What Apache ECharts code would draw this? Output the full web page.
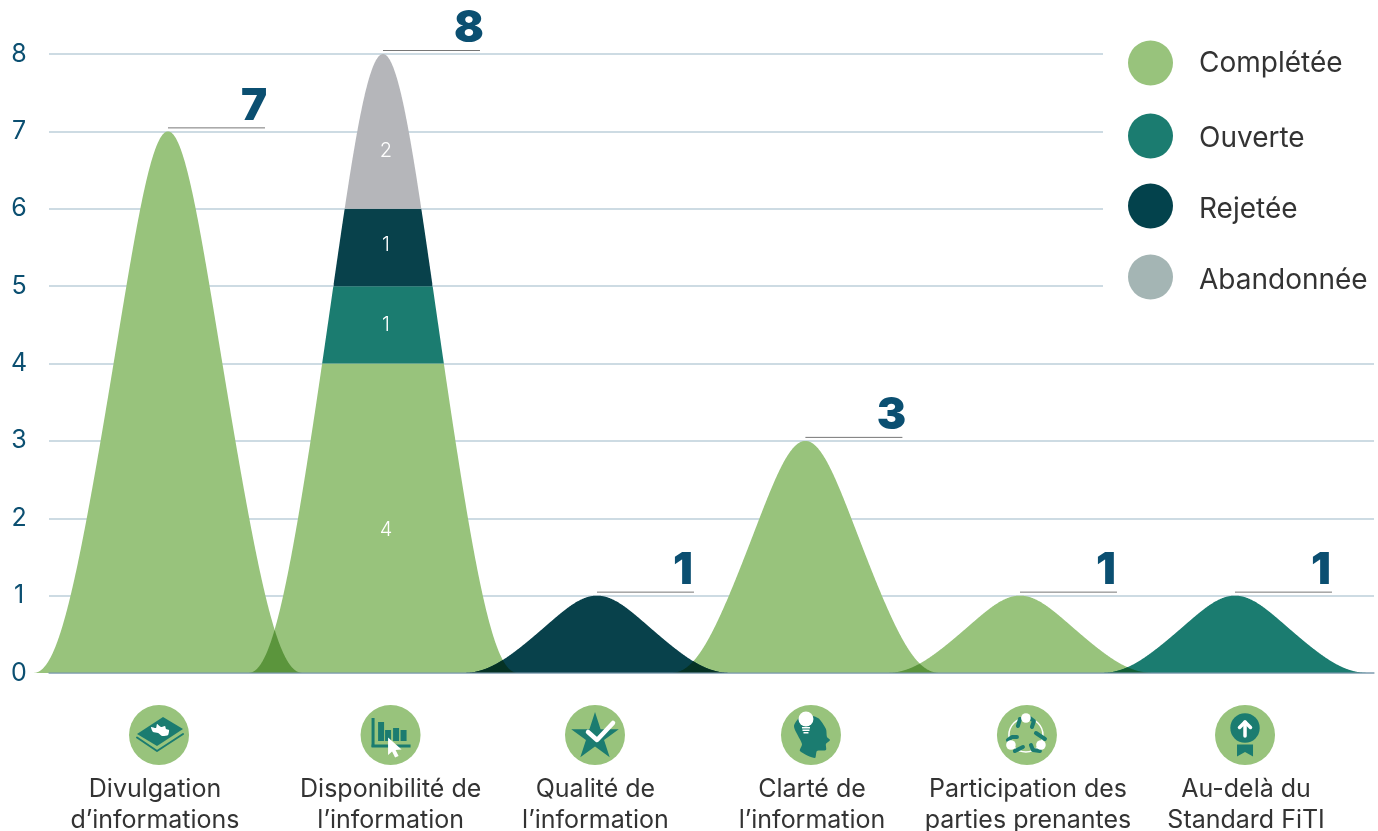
<!DOCTYPE html>
<html>
<head>
<meta charset="utf-8">
<style>html,body{margin:0;padding:0;background:#fff}#c{width:1378px;height:831px}</style>
<script src="https://cdn.jsdelivr.net/npm/echarts@6/dist/echarts.min.js"></script>
</head>
<body>
<div id="c"></div>
<script>
const categories = ['Divulgation\nd’informations','Disponibilité de\nl’information','Qualité de\nl’information','Clarté de\nl’information','Participation des\nparties prenantes','Au-delà du\nStandard FiTI'];
const statusNames = ['Complétée','Ouverte','Rejetée','Abandonnée'];
const completee = [7,4,0,3,1,0];
const ouverte = [0,1,0,0,0,1];
const rejetee = [0,1,1,0,0,0];
const abandonnee = [0,2,0,0,0,0];
const yTicks = [0,1,2,3,4,5,6,7,8];

// layout of the picture, in units of the horizontal axis
const peakSlots = [0,1.0075,2.0103,2.9869,3.9925,5];
const labelSlots = [-0.061,1.0436,2.003,3.018,4.03,5.052];
const iconSlots = [-0.042,1.043,2.001,3.013,4.025,5.047];
const statusSeries = [completee,ouverte,rejetee,abandonnee];
const totals = categories.map((_,i)=>statusSeries.reduce((s,a)=>s+a[i],0));

const colors = ['#98C37C','#1B7C70','#08414B','#B5B6BA'];
const legendColors = ['#98C37C','#1B7C70','#03424C','#A4B5B4'];
const legendY = [63,136,206,277];
const legendTextDrop = [2,6,8,8];
const FONT = 'Inter';
const TEAL='#1B7C70', GREEN='#98C37C';

// bell outline (axis units)
const BELL_W=0.635;
function bell(d){
  if(Math.abs(d)>=BELL_W) return 0;
  const R=(1+Math.cos(Math.PI*d/BELL_W))/2;
  return Math.pow(R,1.13+0.42*R*R);
}
function segmentPoints(api,slot,total,base,top){
  const pts=[], low=[];
  for(let d=-BELL_W;d<=BELL_W+1e-9;d+=0.002){
    const h=bell(d)*total;
    if(h>=base){
      pts.push(api.coord([slot+d,Math.min(h,top)]));
      low.unshift(api.coord([slot+d,base]));
    }
  }
  return pts.concat(low);
}
function multiply(a,b){
  const ch=(s,i)=>parseInt(s.substr(1+2*i,2),16);
  let out='#';
  for(let i=0;i<3;i++) out+=Math.round(ch(a,i)*ch(b,i)/255).toString(16).padStart(2,'0');
  return out;
}
// colour of the lowest band of each peak
const footColor=categories.map((_,i)=>colors[statusSeries.findIndex(a=>a[i]>0)]);

const labelShift={0:12,1:0,2:-2,3:20};
const humpSeries=statusSeries.map((arr,si)=>({
  type:'custom',name:statusNames[si],z:3,silent:true,clip:false,
  itemStyle:{color:legendColors[si]},
  data:arr.map((v,i)=>{
    let base=0; for(let k=0;k<si;k++) base+=statusSeries[k][i];
    return [peakSlots[i],v,base,totals[i],totals[i]>v?1:0];
  }),
  renderItem:(p,api)=>{
    const v=api.value(1); if(!v) return null;
    const slot=api.value(0),base=api.value(2),total=api.value(3);
    const children=[{type:'polygon',shape:{points:segmentPoints(api,slot,total,base,base+v)},style:{fill:colors[si]}}];
    if(api.value(4)){
      const c=api.coord([slot,base+v/2]);
      children.push({type:'text',x:c[0]+3,y:c[1]+labelShift[si],style:{text:String(v),fill:'#fff',font:'300 20px '+FONT,align:'center',verticalAlign:'middle'}});
    }
    return {type:'group',children};
  }
}));
// where two neighbouring peaks cross, the colours darken each other
const overlapSeries={
  type:'custom',name:'Chevauchement',z:4,silent:true,clip:false,
  data:peakSlots.slice(0,-1).map((s,i)=>[s,totals[i],peakSlots[i+1],totals[i+1]]),
  renderItem:(p,api)=>{
    const a=api.value(0),ta=api.value(1),b=api.value(2),tb=api.value(3);
    const top=[],low=[];
    for(let x=b-BELL_W;x<=a+BELL_W+1e-9;x+=0.002){
      top.push(api.coord([x,Math.min(bell(x-a)*ta,bell(x-b)*tb)]));
      low.unshift(api.coord([x,0]));
    }
    return {type:'polygon',shape:{points:top.concat(low)},style:{fill:multiply(footColor[p.dataIndex],footColor[p.dataIndex+1])}};
  }
};
const totalSeries={
  type:'custom',name:'Total',z:5,silent:true,clip:false,
  data:totals.map((t,i)=>[peakSlots[i],t]),
  renderItem:(p,api)=>{
    const c=api.coord([api.value(0),api.value(1)]);
    return {type:'group',children:[
      {type:'line',shape:{x1:c[0],y1:c[1]-3.5,x2:c[0]+97,y2:c[1]-3.5},style:{stroke:'#777',lineWidth:1}},
      {type:'text',x:c[0]+86,y:c[1]-25,style:{text:String(api.value(1)),fill:'#0B4F71',font:'900 44px '+FONT,align:'center',verticalAlign:'middle'}}
    ]};
  }
};
// small pictograms under the axis
function poly(points,fill){return {type:'polygon',shape:{points},style:{fill}};}
function stroke(points,color,w){return {type:'polyline',shape:{points},style:{stroke:color,lineWidth:w,fill:null,lineCap:'round',lineJoin:'round'}};}
function circle(cx,cy,r,fill){return {type:'circle',shape:{cx,cy,r},style:{fill}};}
function rect(x,y,width,height,fill){return {type:'rect',shape:{x,y,width,height},style:{fill}};}
const drawings=[
  ()=>[poly([[-22,-1],[4,-18],[24,-6],[-2,11]],TEAL),
       stroke([[-22,2.5],[-2,16],[24,-1]],TEAL,2),
       {type:'polygon',shape:{points:[[-8,-8],[-3,-7],[-2,-11],[2,-8],[6,-9],[7,-6],[10,-5],[9,0],[3,1],[-1,-2],[-6,-3]],smooth:0.2},style:{fill:'#fff'}}],
  ()=>[rect(-19,-17,3,29,TEAL),rect(-19,9.5,39,3,TEAL),
       rect(-12.5,-13,6,19,TEAL),rect(-5.5,-5,6,11,TEAL),rect(2.5,-7,6,13,TEAL),rect(10,-5,6,11,TEAL),
       poly([[-2.5,2.5],[11,14.5],[5,15],[8,21],[4.5,22.5],[1.5,16.5],[-2.5,20]],'#fff')],
  ()=>{const pts=[];for(let i=0;i<10;i++){const r=i%2?9.5:25,a=-Math.PI/2+i*Math.PI/5;pts.push([r*Math.cos(a),2+r*Math.sin(a)]);}
       return [poly(pts,TEAL),stroke([[-7,-3],[2,5],[18,-12]],'#fff',4.5)];},
  ()=>[{type:'polygon',shape:{points:[[4,23],[-11,16],[-9,9],[-17,-9],[-8,-20],[7,-17],[15,-6],[16,2],[19,5],[15,9],[15,15],[6,16]],smooth:0.25},style:{fill:TEAL}},
       circle(-5,-16,7.5,'#fff'),rect(-9,-8,8,1.5,'#fff'),rect(-8.5,-5.5,7,1.5,'#fff'),rect(-7.5,-3,5,1.5,'#fff')],
  ()=>[{type:'circle',shape:{cx:-1,cy:0,r:17},style:{fill:null,stroke:'#fff',lineWidth:1.5}},
       stroke([[-9,-9],[-7,-16]],TEAL,4),stroke([[3,-17],[7,-14],[5,-8]],TEAL,4),
       stroke([[9,-2],[18,4]],TEAL,4),stroke([[-19,5],[-15,2],[-10,2]],TEAL,4),
       stroke([[-12,16],[-4,12]],TEAL,4),stroke([[4,10],[6,15],[13,16]],TEAL,4),
       circle(-1,-17,4.8,'#fff'),circle(-16,10,4.8,'#fff'),circle(14,10,4.8,'#fff')],
  ()=>[circle(0,-7,14.7,TEAL),poly([[-8,9.5],[8,9.5],[8,21.5],[0,17],[-8,21.5]],TEAL),
       stroke([[0,1],[0,-13]],'#fff',3.5),stroke([[-5.5,-7.5],[0,-13],[5.5,-7.5]],'#fff',3.5)]
];
const iconSeries={
  type:'custom',name:'Pictogrammes',z:5,silent:true,clip:false,
  data:iconSlots.map(s=>[s,0]),
  renderItem:(p,api)=>{
    const c=api.coord([api.value(0),0]);
    return {type:'group',x:c[0],y:c[1]+62,children:[circle(0,0,30,GREEN)].concat(drawings[p.dataIndex]())};
  }
};
const chart=echarts.init(document.getElementById('c'));
chart.setOption({
  backgroundColor:'#fff',animation:false,
  textStyle:{fontFamily:FONT},
  grid:{left:49,right:4,top:54,bottom:158,containLabel:false,outerBoundsMode:'none'},
  xAxis:{type:'value',min:-0.5576,max:5.6514,z:6,
    splitLine:{show:false},axisTick:{show:false},
    axisLine:{show:true,onZero:false,lineStyle:{color:'rgba(120,150,170,0.75)',width:1.5}},
    axisLabel:{customValues:labelSlots,margin:101,hideOverlap:false,color:'#333',fontFamily:FONT,fontSize:25,lineHeight:31,align:'center',verticalAlign:'top',
      formatter:v=>categories[labelSlots.indexOf(v)]||''}},
  yAxis:{type:'value',min:0,max:8,interval:1,
    axisLine:{show:false},axisTick:{show:false},
    splitLine:{show:true,lineStyle:{color:'#BCCFDA',width:1.5}},
    axisLabel:{margin:30,align:'center',color:'#0B4F71',fontFamily:FONT,fontSize:25,formatter:v=>yTicks.includes(v)?String(v):''}},
  legend:statusNames.map((n,i)=>({
    left:1128,top:legendY[i]-22.5,orient:'horizontal',selectedMode:false,z:10,padding:0,
    icon:'circle',itemWidth:45,itemHeight:45,
    data:[{name:n,itemStyle:{color:legendColors[i]}}],
    formatter:name=>'{t|'+name+'}',
    textStyle:{fontFamily:FONT,fontSize:28,color:'#333',
      rich:{t:{fontFamily:FONT,fontSize:28,color:'#333',padding:[legendTextDrop[i],0,0,21]}}}
  })),
  graphic:[{type:'rect',z:1,silent:true,shape:{x:1103,y:40,width:275,height:260},style:{fill:'#fff'}}],
  series:humpSeries.concat([overlapSeries,totalSeries,iconSeries])
});
</script>
</body>
</html>
